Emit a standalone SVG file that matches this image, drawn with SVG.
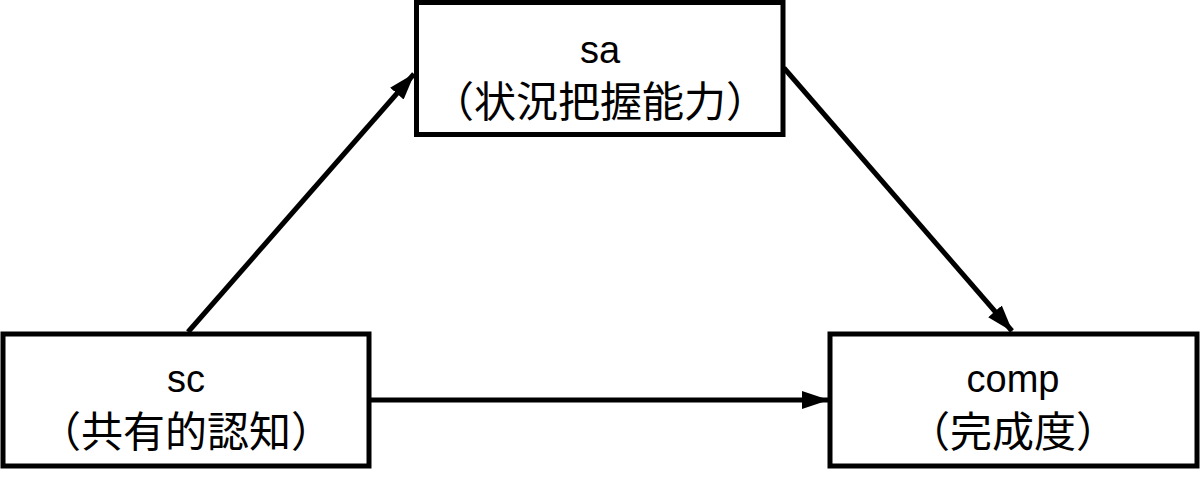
<svg xmlns="http://www.w3.org/2000/svg" width="1200" height="480" viewBox="0 0 1200 480">
<style>
.box{fill:#fff;stroke:#000;stroke-width:5}
.lbl{font-family:"Liberation Sans","Noto Sans CJK JP",sans-serif;font-size:38px;fill:#000;text-anchor:middle}
.cjk{font-family:"Noto Sans CJK JP","Liberation Sans",sans-serif;font-size:42px;fill:#000;text-anchor:middle}
.edge{stroke:#000;stroke-width:5;fill:none;marker-end:url(#ah)}
</style>
<defs>
<marker id="ah" markerUnits="userSpaceOnUse" markerWidth="28" markerHeight="18" refX="26" refY="9" orient="auto">
<path d="M0,0 L27,9 L0,18 Z" fill="#000"/>
</marker>
</defs>
<rect width="1200" height="480" fill="#fff"/>
<g id="connectors">
<line class="edge" x1="188" y1="332" x2="414" y2="74"/>
<line class="edge" x1="784" y1="68" x2="1012" y2="331"/>
<line class="edge" x1="371" y1="400" x2="828" y2="400"/>
</g>
<g id="sa">
<rect class="box" x="416.5" y="2.5" width="366.5" height="132"/>
<text class="lbl" x="600" y="63">sa</text>
<text class="cjk" x="600" y="117">（状況把握能力）</text>
</g>
<g id="sc">
<rect class="box" x="3" y="334" width="366" height="132"/>
<text class="lbl" x="186" y="392">sc</text>
<text class="cjk" x="186" y="447">（共有的認知）</text>
</g>
<g id="comp">
<rect class="box" x="830" y="334" width="367" height="132"/>
<text class="lbl" x="1013" y="392">comp</text>
<text class="cjk" x="1013" y="447">（完成度）</text>
</g>
</svg>
